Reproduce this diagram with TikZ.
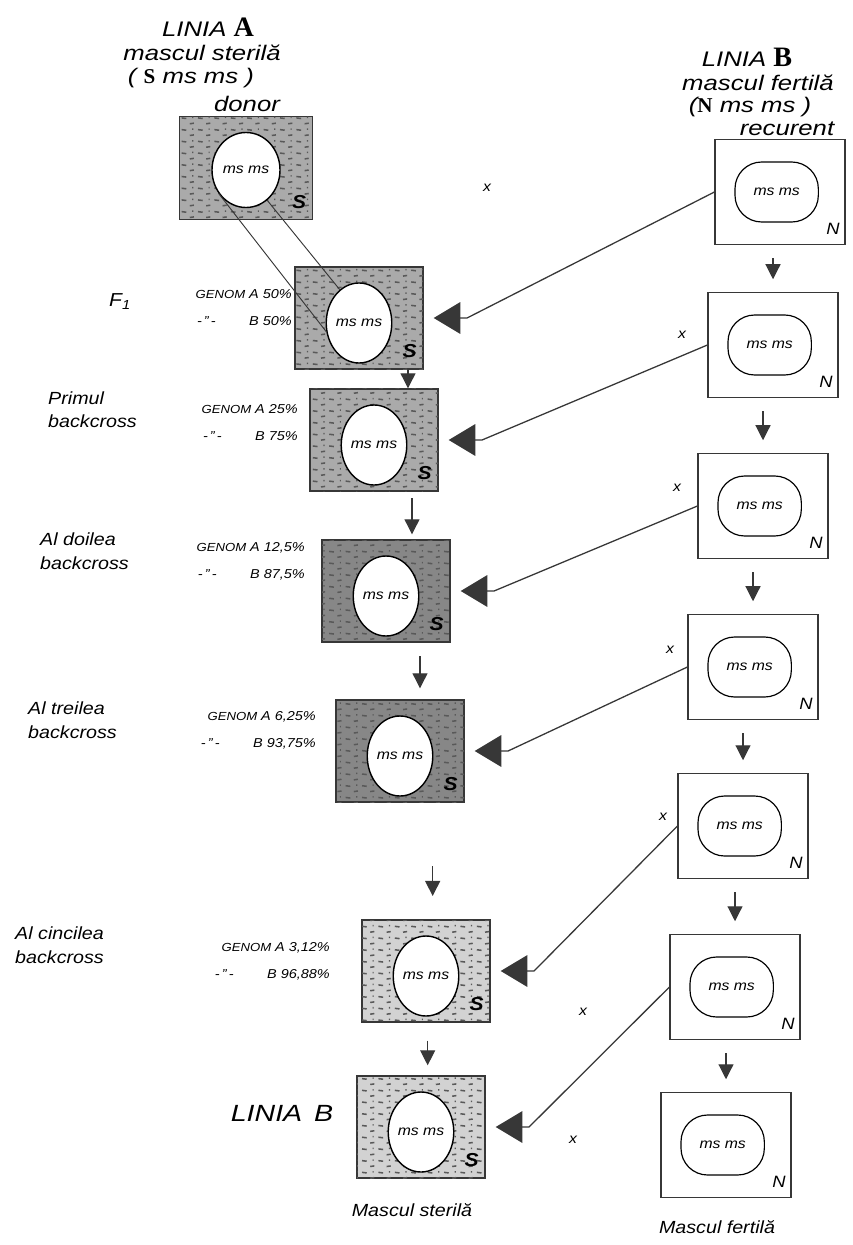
\documentclass[tikz,border=0pt]{standalone}
\usepackage{fontspec}
\setmainfont{Liberation Sans}[FakeStretch=1.12]
\newfontfamily\serifbold{Liberation Serif}
\newfontfamily\handwide{Liberation Sans}[FakeStretch=1.22]
\usepackage{tikz}
\usetikzlibrary{shapes.geometric, arrows.meta, positioning, calc, patterns}
\definecolor{inkgray}{RGB}{55, 55, 55}
\definecolor{stipplegray}{RGB}{170, 170, 170}
\definecolor{darkstipple}{RGB}{135, 135, 135}
\definecolor{lightstipple}{RGB}{210, 210, 210}
\pgfdeclarepatternformonly{stipple}{\pgfqpoint{-1pt}{-1pt}}{\pgfqpoint{15pt}{11pt}}{\pgfqpoint{14pt}{10pt}}{%
  \pgfsetlinewidth{1.3pt}%
  \pgfpathmoveto{\pgfqpoint{1pt}{2pt}}\pgfpathlineto{\pgfqpoint{5pt}{1.5pt}}%
  \pgfpathmoveto{\pgfqpoint{8pt}{7pt}}\pgfpathlineto{\pgfqpoint{11.5pt}{7.5pt}}%
  \pgfpathmoveto{\pgfqpoint{10pt}{2.5pt}}\pgfpathlineto{\pgfqpoint{11pt}{2.5pt}}%
  \pgfusepath{stroke}}
\tikzstyle{sbox} = [rectangle, draw=inkgray, line width=1.2pt, minimum width=3.84cm, minimum height=3.06cm, fill=stipplegray, postaction={pattern=stipple, pattern color=black!65}]
\tikzstyle{nbox} = [rectangle, draw=inkgray, line width=1pt, minimum width=3.9cm, minimum height=3.15cm, fill=white]
\tikzstyle{gen} = [ellipse, draw=black, line width=1.2pt, fill=white, minimum width=1.86cm, minimum height=2.4cm, inner sep=0pt, font=\fontsize{12}{14}\selectfont\itshape]
\tikzstyle{genN} = [rectangle, rounded corners=0.8cm, draw=black, line width=1pt, fill=white, minimum width=2.5cm, minimum height=1.8cm, font=\fontsize{12}{14}\selectfont\itshape]
\tikzstyle{hdr} = [inner sep=0pt, font=\handwide\fontsize{18}{20}\selectfont\itshape]
\tikzstyle{stage} = [inner sep=0pt, align=left, anchor=west, font=\fontsize{15}{20}\selectfont\itshape]
\tikzstyle{genom} = [inner sep=0pt, align=right, anchor=east, font=\fontsize{11}{23}\selectfont\itshape]
\tikzstyle{tagS} = [inner sep=0pt, font=\fontsize{16}{16}\selectfont\bfseries\itshape]
\tikzstyle{tagN} = [inner sep=0pt, font=\fontsize{14}{14}\selectfont\itshape]
\tikzstyle{crossmark} = [inner sep=0pt, font=\fontsize{12}{12}\selectfont\itshape]
\tikzstyle{cross} = [-{Triangle[length=0.8cm, width=0.95cm]}, line width=1.1pt, draw=inkgray]
\tikzstyle{down} = [-{Triangle[length=0.45cm, width=0.45cm]}, line width=1pt, draw=inkgray]
\newcommand{\ditto}{-\,"\,-}

\begin{document}
\begin{tikzpicture}[x=0.03cm, y=-0.03cm]
    \useasboundingbox (0,0) rectangle (853,1245);

    % Line A heading
    \node[hdr] (hdrA) at (208,27) {LINIA {\serifbold\bfseries\upshape\fontsize{24}{24}\selectfont A}};
    \node[hdr] (sterA) at (202,53) {mascul sterilă};
    \node[hdr] (formA) at (191,78) {( {\serifbold\bfseries\upshape S} ms ms )};
    \node[hdr] (donor) at (247,104) {donor};

    % Line B heading
    \node[hdr] (hdrB) at (747,57) {LINIA {\serifbold\bfseries\upshape\fontsize{24}{24}\selectfont B}};
    \node[hdr] (fertB) at (758,83) {mascul fertilă};
    \node[hdr] (formB) at (750,107) {({\serifbold\bfseries\upshape N} ms ms )};
    \node[hdr] (recur) at (787,129) {recurent};

    % Sterile column
    \node[sbox, minimum width=3.99cm, minimum height=3.09cm] (s0) at (246,168) {};
    \node[sbox] (s1) at (359,318) {};
    \node[sbox] (s2) at (374,440) {};
    \node[sbox, fill=darkstipple] (s3) at (386,591) {};
    \node[sbox, fill=darkstipple] (s4) at (400,751) {};
    \node[sbox, fill=lightstipple] (s5) at (426,971) {};
    \node[sbox, fill=lightstipple] (s6) at (421,1127) {};

    \node[gen, minimum width=2.04cm, minimum height=2.25cm] (e0) at ([yshift=-0.06cm]s0.center) {ms ms};
    \foreach \i in {1,...,6}
        \node[gen] (e\i) at ([yshift=-0.15cm]s\i.center) {ms ms};
    \foreach \i in {0,...,6}
        \node[tagS] (t\i) at ([xshift=-0.42cm, yshift=0.55cm]s\i.south east) {S};

    % Fertile column
    \node[nbox] (n0) at (780,192) {};
    \node[nbox] (n1) at (773,345) {};
    \node[nbox] (n2) at (763,506) {};
    \node[nbox] (n3) at (753,667) {};
    \node[nbox] (n4) at (743,826) {};
    \node[nbox] (n5) at (735,987) {};
    \node[nbox] (n6) at (726,1145) {};
    \foreach \i in {0,...,6} {
        \node[genN] (m\i) at ([xshift=-0.1cm]n\i.center) {ms ms};
        \node[tagN] (u\i) at ([xshift=-0.38cm, yshift=0.5cm]n\i.south east) {N};
    }

    % Stage labels
    \node[inner sep=0pt, font=\fontsize{16}{16}\selectfont\itshape] (f1) at (120,302) {F\textsubscript{1}};
    \node[stage] (bc1) at (48,410) {Primul\\backcross};
    \node[stage] (bc2) at (40,551) {Al doilea\\backcross};
    \node[stage] (bc3) at (28,720) {Al treilea\\backcross};
    \node[stage] (bc5) at (15,945) {Al cincilea\\backcross};
    \node[inner sep=0pt, font=\handwide\fontsize{20}{20}\selectfont\itshape] (linB) at (282,1113) {LINIA\, B};

    % Genome shares
    \node[genom] (g1) at (292,308) {{\fontsize{10}{10}\selectfont GENOM} A 50\%\\\ditto\hspace{2.6em}B 50\%};
    \node[genom] (g2) at (298,423) {{\fontsize{10}{10}\selectfont GENOM} A 25\%\\\ditto\hspace{2.6em}B 75\%};
    \node[genom] (g3) at (305,561) {{\fontsize{10}{10}\selectfont GENOM} A 12,5\%\\\ditto\hspace{2.6em}B 87,5\%};
    \node[genom] (g4) at (316,730) {{\fontsize{10}{10}\selectfont GENOM} A 6,25\%\\\ditto\hspace{2.6em}B 93,75\%};
    \node[genom] (g5) at (330,961) {{\fontsize{10}{10}\selectfont GENOM} A 3,12\%\\\ditto\hspace{2.6em}B 96,88\%};

    % Cross marks
    \node[crossmark] (x0) at (487,188) {x};
    \node[crossmark] (x1) at (682,335) {x};
    \node[crossmark] (x2) at (677,488) {x};
    \node[crossmark] (x3) at (670,650) {x};
    \node[crossmark] (x4) at (663,817) {x};
    \node[crossmark] (x5) at (583,1012) {x};
    \node[crossmark] (x6) at (573,1140) {x};

    % Donor cytoplasm
    \draw[inkgray, line width=0.8pt] (e0.220) -- (e1.195);
    \draw[inkgray, line width=0.8pt] (e0.305) -- (e1.120);

    % Crosses
    \foreach \i [count=\j] in {0,...,5}
        \draw[cross] (n\i.west) -- ([xshift=1.3cm]s\j.east) -- ([xshift=0.3cm]s\j.east);

    % Generations
    \draw[down] ($(s1.south -| s2.north)+(1.02cm,0)$) -- ($(s2.north)+(1.02cm,0)$);
    \draw[down, shorten <=0.2cm, shorten >=0.15cm] ($(s2.south -| s3.north)+(0.78cm,0)$) -- ($(s3.north)+(0.78cm,0)$);
    \draw[down, shorten <=0.4cm, shorten >=0.33cm] ($(s3.south -| s4.north)+(0.6cm,0)$) -- ($(s4.north)+(0.6cm,0)$);
    \draw[down, shorten <=1.9cm, shorten >=0.7cm] ($(s4.south -| s5.north)+(0.2cm,0)$) -- ($(s5.north)+(0.2cm,0)$);
    \draw[down, shorten <=0.54cm, shorten >=0.3cm] ($(s5.south -| s6.north)+(0.2cm,0)$) -- ($(s6.north)+(0.2cm,0)$);

    \foreach \i [count=\j] in {0,...,5}
        \draw[down, shorten <=0.4cm, shorten >=0.38cm] (n\i.south -| n\j.north) -- (n\j.north);

    % Results
    \node[inner sep=0pt, font=\fontsize{15}{15}\selectfont\itshape] (resS) at (412,1210) {Mascul sterilă};
    \node[inner sep=0pt, font=\fontsize{15}{15}\selectfont\itshape] (resF) at (717,1227) {Mascul fertilă};
\end{tikzpicture}
\end{document}
